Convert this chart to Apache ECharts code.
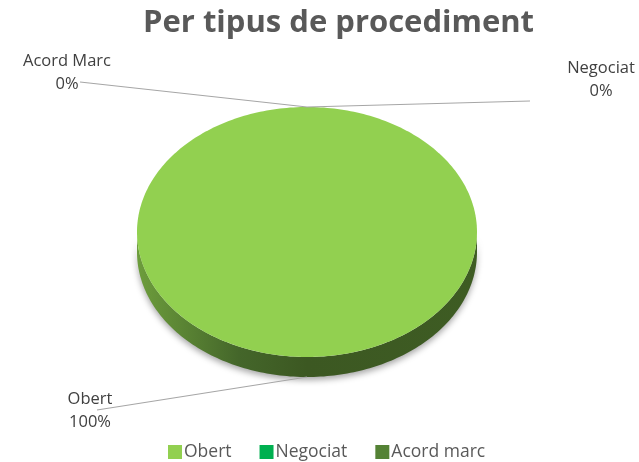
<!DOCTYPE html>
<html lang="ca">
<head>
    <meta charset="UTF-8">
    <title>Per tipus de procediment</title>
    <script src="https://cdn.jsdelivr.net/npm/echarts@6/dist/echarts.min.js"></script>
    <style>
        body { margin: 0; background: #fff; }
        #chart { width: 639px; height: 462px; }
    </style>
</head>
<body>
<div id="chart"></div>
<script>
    // dades
    const categories = ['Obert', 'Negociat', 'Acord marc'];
    const labelNames = ['Obert', 'Negociat', 'Acord Marc'];
    const values = [100, 0, 0];
    const colors = ['#92D050', '#00B050', '#548235'];

    // geometria del pastís 3D (el·lipse)
    const cx = 307, cy = 232, rx = 170, ry = 125, depth = 20;
    // posició manual de les etiquetes (com a Excel): text i final de la línia
    const labelLayout = [
        {x: 90, y: 411, lx: 97, ly: 410},
        {x: 601, y: 80, lx: 530, ly: 101},
        {x: 67, y: 73, lx: 80, ly: 82}
    ];

    const total = values.reduce((a, b) => a + b, 0);
    const starts = [];
    values.reduce((acc, v, i) => { starts[i] = acc; return acc + v; }, 0);

    function pt(theta, dy) {
        return [cx + rx * Math.sin(theta), cy - ry * Math.cos(theta) + dy];
    }

    function arc(a, b, dy) {
        const n = Math.max(2, Math.ceil((b - a) / 0.02));
        const pts = [];
        for (let k = 0; k <= n; k++) pts.push(pt(a + (b - a) * k / n, dy));
        return pts;
    }

    function renderItem(params, api) {
        const i = params.dataIndex;
        const v = api.value(0);
        const a0 = starts[i] / total * Math.PI * 2;
        const a1 = (starts[i] + v) / total * Math.PI * 2;
        const children = [];
        const pct = Math.round(v / total * 100) + '%';

        if (a1 - a0 > 1e-6) {
            // paret lateral visible (meitat de davant)
            const s = Math.max(a0, Math.PI / 2), e = Math.min(a1, Math.PI * 1.5);
            if (e > s) {
                const wall = arc(s, e, 0).concat(arc(s, e, depth).reverse());
                children.push({
                    type: 'polygon', z2: 1,
                    shape: {points: wall},
                    style: {
                        fill: {
                            type: 'linear', x: 0, y: 0, x2: 1, y2: 0,
                            colorStops: [
                                {offset: 0, color: '#6d9d3c'},
                                {offset: 0.3, color: '#44662a'},
                                {offset: 0.5, color: '#3c5822'},
                                {offset: 1, color: '#3e5c23'}
                            ]
                        },
                        shadowBlur: 6,
                        shadowOffsetY: 3,
                        shadowColor: 'rgba(0,0,0,0.35)'
                    }
                });
            }
            const full = a1 - a0 >= Math.PI * 2 - 1e-6;
            const top = full ? arc(a0, a1, 0) : [[cx, cy]].concat(arc(a0, a1, 0));
            children.push({
                type: 'polygon', z2: 10,
                shape: {points: top},
                style: {fill: colors[i]}
            });
        }

        // línia i etiqueta
        const mid = (a0 + a1) / 2;
        const front = Math.cos(mid) < 0;
        const anchor = pt(mid, front ? depth : 0);
        const L = labelLayout[i];
        children.push({
            type: 'polyline', z2: 20,
            shape: {points: [anchor, [L.lx, L.ly]]},
            style: {stroke: '#a6a6a6', lineWidth: 1.2, fill: null}
        });
        children.push({
            type: 'text', z2: 20,
            x: L.x, y: L.y,
            style: {
                text: labelNames[i] + '\n' + pct,
                fill: '#404040',
                font: '16.5px "Open Sans", sans-serif',
                align: 'center',
                verticalAlign: 'middle',
                lineHeight: 23
            }
        });
        return {type: 'group', children: children};
    }

    const chart = echarts.init(document.getElementById('chart'));
    chart.setOption({
        animation: false,
        title: {
            text: 'Per tipus de procediment',
            left: 138,
            top: 3,
            textStyle: {
                color: '#595959',
                fontSize: 31,
                fontWeight: 'bold',
                fontFamily: '"Open Sans", sans-serif'
            }
        },
        legend: {
            top: 443,
            left: 168,
            padding: 0,
            icon: 'rect',
            itemWidth: 14,
            itemHeight: 14,
            itemGap: 28,
            selectedMode: false,
            data: categories,
            textStyle: {color: '#595959', fontSize: 17.5, fontFamily: '"Open Sans", sans-serif', padding: [0, 0, 0, -3]}
        },
        series: [
            {
                type: 'custom',
                coordinateSystem: 'none',
                renderItem: renderItem,
                data: values.map((v, i) => ({name: categories[i], value: [v]})),
                silent: true
            },
            {
                // només per a la llegenda
                type: 'pie',
                radius: [0, 0],
                silent: true,
                label: {show: false},
                labelLine: {show: false},
                data: values.map((v, i) => ({name: categories[i], value: v, itemStyle: {color: colors[i]}}))
            }
        ]
    });
</script>
</body>
</html>
